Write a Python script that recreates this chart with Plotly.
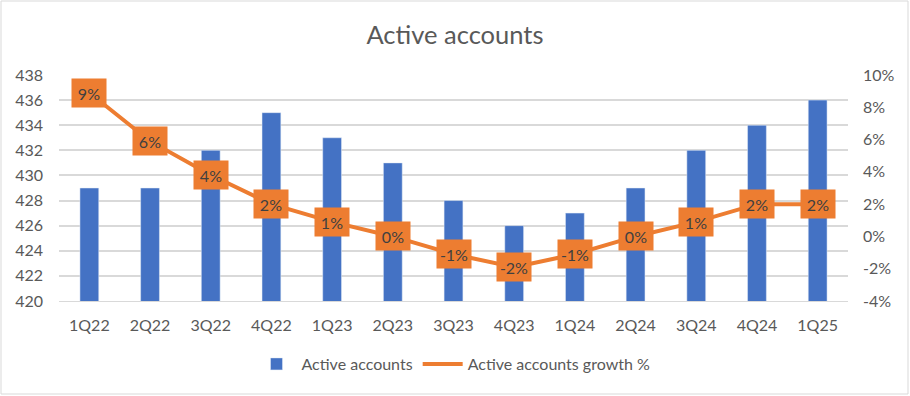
import plotly.graph_objects as go

quarters = ["1Q22", "2Q22", "3Q22", "4Q22", "1Q23", "2Q23", "3Q23", "4Q23",
            "1Q24", "2Q24", "3Q24", "4Q24", "1Q25"]
active_accounts = [429, 429, 432, 435, 433, 431, 428, 426, 427, 429, 432, 434, 436]
growth_pct = [8.9, 5.9, 3.8, 2.0, 0.9, 0.0, -1.1, -1.9, -1.1, 0.0, 0.9, 2.0, 2.0]
growth_labels = ["9%", "6%", "4%", "2%", "1%", "0%", "-1%", "-2%", "-1%", "0%", "1%", "2%", "2%"]

left_ticks = list(range(420, 439, 2))
right_ticks = list(range(-4, 11, 2))
right_tick_labels = [f"{v}%" for v in right_ticks]

BLUE = "#4472C4"
ORANGE = "#ED7D31"
TXT = "#595959"
GRID = "#D9D9D9"
FONT = "Lato, 'Noto Sans', sans-serif"

W, H = 910, 396
ML, MR, MT, MB = 59, 62, 75, 95

fig = go.Figure()
fig.add_trace(go.Bar(x=quarters, y=active_accounts, name="Active accounts",
                     marker_color=BLUE, yaxis="y"))
fig.add_trace(go.Scatter(x=quarters, y=growth_pct, name="Active accounts growth %",
                         mode="lines", line=dict(color=ORANGE, width=4), yaxis="y2"))

for q, g, lab in zip(quarters, growth_pct, growth_labels):
    fig.add_annotation(x=q, y=g, xref="x", yref="y2", text=lab, showarrow=False,
                       bgcolor=ORANGE, font=dict(color="#404040", size=16, family=FONT),
                       width=30, height=24, borderpad=2)

pw = W - ML - MR
ph = H - MT - MB
fig.add_shape(type="rect", xref="paper", yref="paper",
              x0=(1 - ML) / pw, x1=(W - 2 - ML) / pw,
              y0=-(MB - 2) / ph, y1=1 + (MT - 1) / ph,
              line=dict(color="#D9D9D9", width=1), fillcolor="rgba(0,0,0,0)", layer="below")

fig.update_layout(
    width=W, height=H,
    margin=dict(l=ML, r=MR, t=MT, b=MB, autoexpand=False),
    paper_bgcolor="white", plot_bgcolor="white",
    font=dict(family=FONT, color=TXT, size=16),
    title=dict(text="Active accounts", x=0.5, xanchor="center", y=1 - 35 / H,
               yanchor="middle", font=dict(size=25.5, color=TXT, family=FONT)),
    bargap=0.69,
    showlegend=True,
    legend=dict(orientation="h", x=0.5, xanchor="center", y=-(364 - 301) / ph,
                yanchor="middle", font=dict(size=16, color=TXT), itemwidth=40,
                traceorder="normal"),
    xaxis=dict(showgrid=False, showline=True, linecolor=GRID, ticks="",
               tickfont=dict(size=16, color=TXT), ticklabelstandoff=10),
    yaxis=dict(range=[420, 438], tickvals=left_ticks, showgrid=True, gridcolor=GRID,
               gridwidth=1.5, zeroline=False, ticks="", tickfont=dict(size=16, color=TXT),
               ticklabelstandoff=15),
    yaxis2=dict(range=[-4, 10], tickvals=right_ticks, ticktext=right_tick_labels,
                overlaying="y", side="right", showgrid=False, zeroline=False, ticks="",
                tickfont=dict(size=16, color=TXT), ticklabelstandoff=14),
)

fig.write_html("out.html", config={"displayModeBar": False},
               post_script="document.body.style.margin='0';document.body.style.overflow='hidden';")
